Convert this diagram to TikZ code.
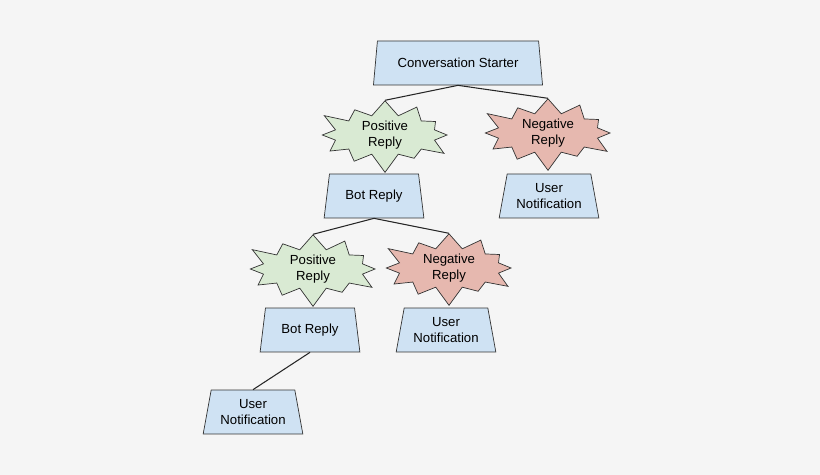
\documentclass[tikz,border=0pt]{standalone}
\usepackage{fontspec}
\setmainfont{Liberation Sans}
\usetikzlibrary{shapes.geometric,shapes.symbols}
\definecolor{boxblue}{RGB}{207,226,243}
\definecolor{posgreen}{RGB}{217,234,211}
\definecolor{negred}{RGB}{230,184,175}
\definecolor{bggray}{RGB}{245,245,245}
\tikzset{
  box/.style={trapezium, trapezium left angle=77, trapezium right angle=77,
    trapezium stretches=true, draw=black!80, fill=boxblue,
    minimum width=2cm, minimum height=0.88cm, align=center, font=\fontsize{7.5}{9}\selectfont, inner sep=1pt},
  burst/.style={starburst, starburst points=12, starburst point height=0.4cm, draw=black!80,
    minimum width=2.85cm, minimum height=0.9cm, align=center, font=\fontsize{7.5}{9}\selectfont, inner sep=0pt},
  posreply/.style={burst, fill=posgreen},
  negreply/.style={burst, fill=negred},
  link/.style={draw=black!85, line width=0.6pt}
}
\begin{document}
\begin{tikzpicture}[x=0.02cm,y=-0.02cm]
  \pgfmathsetseed{7}
  \fill[bggray] (0,0) rectangle (820,475);
  \node[box, minimum width=3.4cm] (cs) at (458,63) {Conversation Starter};
  \node[posreply] (p1) at (385,135) {Positive\\Reply};
  \node[negreply] (n1) at (548,133) {Negative\\Reply};
  \node[box] (b1) at (374,196) {Bot Reply};
  \node[box] (u1) at (549,196) {User\\Notification};
  \node[posreply] (p2) at (313,269) {Positive\\Reply};
  \node[negreply] (n2) at (449,268) {Negative\\Reply};
  \node[box] (b2) at (310,330) {Bot Reply};
  \node[box] (u2) at (446,330) {User\\Notification};
  \node[box] (u3) at (253,412) {User\\Notification};
  \draw[link] (cs.south) -- (p1.north);
  \draw[link] (cs.south) -- (n1.north);
  \draw[link] (b1.south) -- (p2.north);
  \draw[link] (b1.south) -- (n2.north);
  \draw[link] (b2.south) -- (u3.north);
\end{tikzpicture}
\end{document}
